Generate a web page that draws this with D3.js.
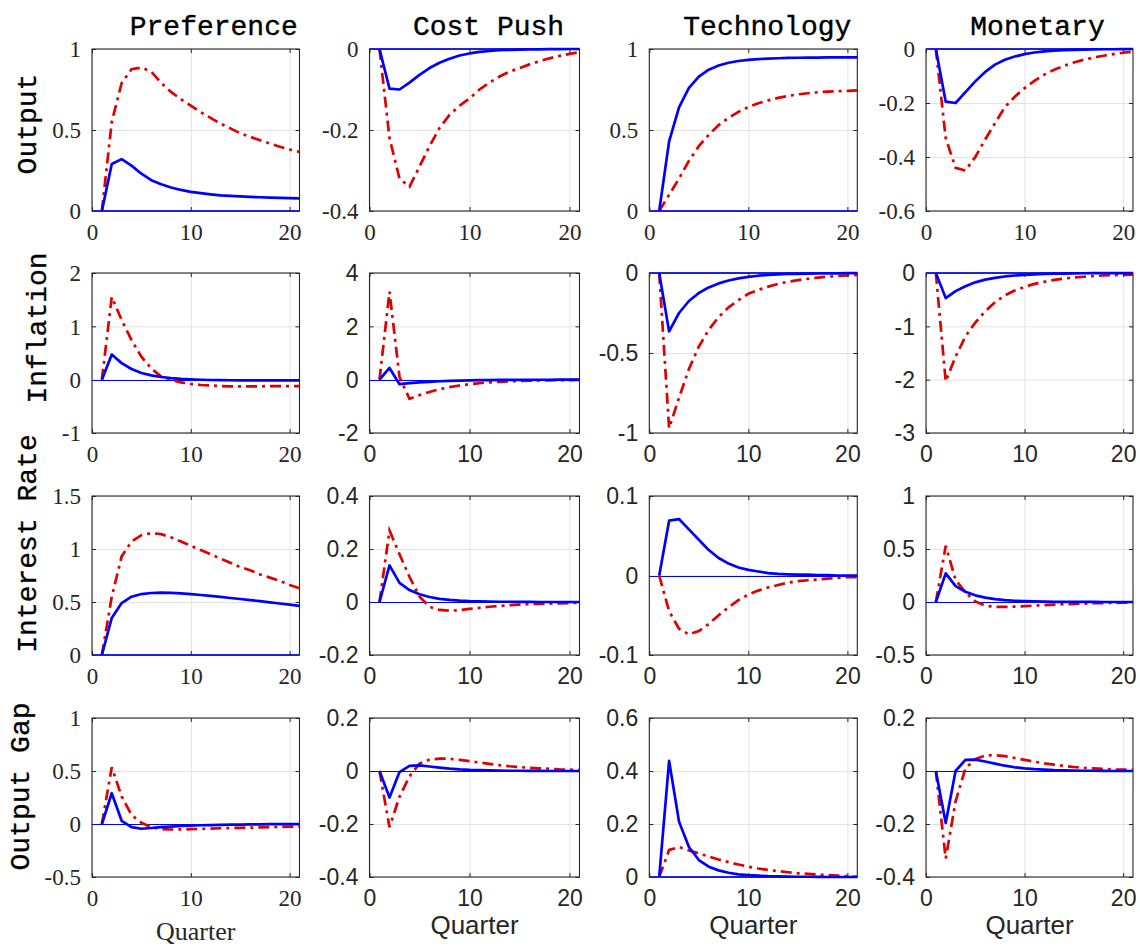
<!DOCTYPE html>
<html>
<head>
<meta charset="utf-8">
<script src="https://cdn.jsdelivr.net/npm/d3@7"></script>
<style>
  body { margin: 0; background: #fff; }
  svg { display: block; }
</style>
</head>
<body>
<svg id="chart" width="1140" height="946"></svg>
<script>
// Chart data
const quarters = d3.range(1, 22);
const shocks = ['Preference', 'Cost Push', 'Technology', 'Monetary'];
const variables = ['Output', 'Inflation', 'Interest Rate', 'Output Gap'];
const xTicks = [0, 10, 20];

// y tick labels, one list per panel (row = variable, column = shock)
const outputTicks = [[0, 0.5, 1], [-0.4, -0.2, 0], [0, 0.5, 1], [-0.6, -0.4, -0.2, 0]];
const inflationTicks = [[-1, 0, 1, 2], [-2, 0, 2, 4], [-1, -0.5, 0], [-3, -2, -1, 0]];
const interestTicks = [[0, 0.5, 1, 1.5], [-0.2, 0, 0.2, 0.4], [-0.1, 0, 0.1], [-0.5, 0, 0.5, 1]];
const gapTicks = [[-0.5, 0, 0.5, 1], [-0.4, -0.2, 0, 0.2], [0, 0.2, 0.4, 0.6], [-0.4, -0.2, 0, 0.2]];

// solid blue responses
const outputBlue = [
  [0, 0.29, 0.32, 0.28, 0.23, 0.19, 0.165, 0.145, 0.13, 0.118, 0.11, 0.103, 0.097, 0.093, 0.09, 0.087, 0.085, 0.083, 0.081, 0.079, 0.078],
  [0, -0.098, -0.1, -0.083, -0.064, -0.047, -0.034, -0.024, -0.016, -0.011, -0.007, -0.005, -0.003, -0.002, -0.0015, -0.001, -0.001, -0.0005, -0.0005, 0, 0],
  [0, 0.43, 0.64, 0.76, 0.83, 0.872, 0.898, 0.915, 0.926, 0.933, 0.938, 0.941, 0.943, 0.945, 0.946, 0.947, 0.947, 0.948, 0.948, 0.948, 0.948],
  [0, -0.195, -0.2, -0.16, -0.12, -0.085, -0.058, -0.04, -0.028, -0.019, -0.013, -0.009, -0.006, -0.004, -0.003, -0.002, -0.0015, -0.001, -0.001, -0.0005, 0]
];
const inflationBlue = [
  [0, 0.47, 0.31, 0.2, 0.125, 0.08, 0.05, 0.03, 0.015, 0.005, -0.002, -0.006, -0.009, -0.011, -0.012, -0.013, -0.013, -0.013, -0.013, -0.013, -0.013],
  [0, 0.44, -0.17, -0.13, -0.1, -0.08, -0.06, -0.045, -0.035, -0.027, -0.02, -0.015, -0.011, -0.008, -0.006, -0.005, -0.004, -0.003, -0.002, -0.002, -0.001],
  [0, -0.365, -0.25, -0.175, -0.125, -0.09, -0.065, -0.047, -0.034, -0.024, -0.017, -0.012, -0.009, -0.006, -0.005, -0.004, -0.003, -0.002, -0.002, -0.001, -0.001],
  [0, -0.47, -0.34, -0.25, -0.175, -0.125, -0.09, -0.065, -0.047, -0.034, -0.025, -0.018, -0.013, -0.01, -0.007, -0.005, -0.004, -0.003, -0.002, -0.002, -0.001]
];
const interestBlue = [
  [0, 0.35, 0.49, 0.55, 0.575, 0.585, 0.588, 0.586, 0.581, 0.574, 0.566, 0.557, 0.548, 0.538, 0.528, 0.518, 0.508, 0.497, 0.486, 0.475, 0.463],
  [0, 0.138, 0.072, 0.045, 0.029, 0.019, 0.012, 0.008, 0.005, 0.003, 0.002, 0.0015, 0.001, 0.001, 0.0005, 0.0005, 0, 0, 0, 0, 0],
  [0, 0.069, 0.071, 0.058, 0.045, 0.032, 0.022, 0.015, 0.01, 0.007, 0.005, 0.003, 0.002, 0.0015, 0.001, 0.001, 0.0005, 0.0005, 0, 0, 0],
  [0, 0.27, 0.15, 0.097, 0.063, 0.041, 0.027, 0.018, 0.012, 0.008, 0.005, 0.003, 0.002, 0.0015, 0.001, 0.001, 0.0005, 0, 0, 0, 0]
];
const gapBlue = [
  [0, 0.29, 0.03, -0.03, -0.045, -0.038, -0.03, -0.024, -0.019, -0.015, -0.012, -0.01, -0.008, -0.006, -0.005, -0.004, -0.003, -0.002, -0.002, -0.001, -0.001],
  [0, -0.1, -0.004, 0.019, 0.021, 0.017, 0.013, 0.009, 0.006, 0.004, 0.003, 0.002, 0.0015, 0.001, 0.001, 0.0005, 0.0005, 0, 0, 0, 0],
  [0, 0.438, 0.209, 0.113, 0.064, 0.039, 0.025, 0.016, 0.01, 0.007, 0.005, 0.003, 0.002, 0.0015, 0.001, 0.001, 0.0005, 0, 0, 0, 0],
  [0, -0.196, 0, 0.042, 0.043, 0.036, 0.028, 0.02, 0.014, 0.01, 0.007, 0.005, 0.003, 0.002, 0.0015, 0.001, 0.001, 0.0005, 0, 0, 0]
];

// dash-dot red responses
const outputRed = [
  [0, 0.55, 0.79, 0.875, 0.885, 0.86, 0.79, 0.735, 0.69, 0.65, 0.61, 0.575, 0.54, 0.51, 0.48, 0.458, 0.437, 0.416, 0.397, 0.38, 0.365],
  [0, -0.22, -0.32, -0.34, -0.29, -0.24, -0.195, -0.163, -0.14, -0.122, -0.1, -0.083, -0.068, -0.056, -0.047, -0.038, -0.03, -0.023, -0.017, -0.012, -0.008],
  [0, 0.1, 0.2, 0.31, 0.4, 0.47, 0.53, 0.575, 0.612, 0.642, 0.665, 0.683, 0.698, 0.71, 0.72, 0.727, 0.733, 0.737, 0.74, 0.742, 0.744],
  [0, -0.33, -0.44, -0.45, -0.4, -0.335, -0.275, -0.215, -0.177, -0.145, -0.118, -0.095, -0.077, -0.062, -0.05, -0.04, -0.032, -0.025, -0.019, -0.014, -0.01]
];
const inflationRed = [
  [0, 1.55, 1.12, 0.74, 0.43, 0.21, 0.06, 0, -0.05, -0.08, -0.1, -0.11, -0.12, -0.125, -0.125, -0.125, -0.125, -0.12, -0.12, -0.12, -0.12],
  [0, 3.3, 0.1, -0.72, -0.58, -0.46, -0.36, -0.28, -0.22, -0.17, -0.13, -0.1, -0.08, -0.06, -0.05, -0.04, -0.03, -0.025, -0.02, -0.015, -0.01],
  [0, -0.97, -0.78, -0.6, -0.46, -0.355, -0.275, -0.215, -0.17, -0.13, -0.105, -0.085, -0.068, -0.055, -0.045, -0.036, -0.029, -0.023, -0.019, -0.015, -0.012],
  [0, -2.03, -1.57, -1.19, -0.93, -0.72, -0.55, -0.42, -0.33, -0.26, -0.205, -0.165, -0.13, -0.105, -0.085, -0.07, -0.057, -0.047, -0.04, -0.035, -0.03]
];
const interestRed = [
  [0, 0.55, 0.93, 1.07, 1.13, 1.15, 1.14, 1.11, 1.07, 1.03, 0.99, 0.95, 0.91, 0.87, 0.83, 0.8, 0.76, 0.73, 0.7, 0.66, 0.63],
  [0, 0.27, 0.18, 0.095, 0.02, -0.018, -0.03, -0.033, -0.031, -0.026, -0.022, -0.018, -0.015, -0.012, -0.01, -0.008, -0.007, -0.006, -0.005, -0.004, -0.003],
  [0, -0.045, -0.067, -0.074, -0.07, -0.061, -0.05, -0.04, -0.031, -0.024, -0.019, -0.015, -0.012, -0.009, -0.007, -0.006, -0.005, -0.004, -0.003, -0.002, -0.002],
  [0, 0.53, 0.21, 0.09, 0.005, -0.035, -0.045, -0.046, -0.043, -0.039, -0.034, -0.029, -0.025, -0.021, -0.018, -0.015, -0.012, -0.01, -0.008, -0.007, -0.006]
];
const gapRed = [
  [0, 0.535, 0.26, 0.085, 0.012, -0.03, -0.048, -0.052, -0.051, -0.049, -0.046, -0.043, -0.04, -0.038, -0.036, -0.034, -0.032, -0.03, -0.028, -0.026, -0.025],
  [0, -0.212, -0.097, -0.02, 0.028, 0.043, 0.047, 0.046, 0.042, 0.037, 0.032, 0.027, 0.022, 0.018, 0.015, 0.012, 0.01, 0.008, 0.006, 0.005, 0.004],
  [0, 0.102, 0.113, 0.1, 0.089, 0.077, 0.066, 0.056, 0.047, 0.039, 0.032, 0.027, 0.022, 0.018, 0.014, 0.012, 0.009, 0.007, 0.005, 0.003, 0.001],
  [0, -0.33, -0.115, 0.01, 0.045, 0.058, 0.06, 0.056, 0.049, 0.042, 0.035, 0.029, 0.024, 0.019, 0.015, 0.012, 0.01, 0.008, 0.006, 0.005, 0.004]
];

const ticksByRow = [outputTicks, inflationTicks, interestTicks, gapTicks];
const blueByRow = [outputBlue, inflationBlue, interestBlue, gapBlue];
const redByRow = [outputRed, inflationRed, interestRed, gapRed];

// Layout (pixels)
const colLeft = [92, 369.5, 649.3, 926];
const colWidth = [207.5, 210, 208, 207];
const rowTop = [49, 273, 496, 718];
const rowHeight = [162, 160, 159, 159];
const titleShift = [18, 14, 14, 8];
const labelShift = [-6, -25, -32, -11];

const serif = '"Liberation Serif", "Times New Roman", serif';
const sans = '"Liberation Sans", Arial, Helvetica, sans-serif';
const mono = '"Liberation Mono", "Courier New", monospace';
const ink = '#262626';
const gridColor = '#e3e3e3';
const tickFont = 23;

const svg = d3.select('#chart');

const line = (x, y) => d3.line()
  .x((d, i) => x(quarters[i]))
  .y(d => y(d));

variables.forEach((variable, r) => {
  let labelLeft = Infinity;

  shocks.forEach((shock, c) => {
    const left = colLeft[c], top = rowTop[r];
    const w = colWidth[c], h = rowHeight[r];
    const ticks = ticksByRow[r][c];
    const font = (r === 0 || c === 0) ? serif : sans;

    const x = d3.scaleLinear().domain([0, 21]).range([left, left + w]);
    const y = d3.scaleLinear().domain(d3.extent(ticks)).range([top + h, top]);

    const g = svg.append('g');

    // grid
    g.append('g')
      .attr('transform', `translate(0,${top + h})`)
      .call(d3.axisBottom(x).tickValues(xTicks).tickSize(-h).tickFormat(''))
      .call(a => a.select('.domain').remove())
      .call(a => a.selectAll('line').attr('stroke', gridColor));
    g.append('g')
      .attr('transform', `translate(${left},0)`)
      .call(d3.axisLeft(y).tickValues(ticks).tickSize(-w).tickFormat(''))
      .call(a => a.select('.domain').remove())
      .call(a => a.selectAll('line').attr('stroke', gridColor));

    // box
    g.append('rect')
      .attr('x', left).attr('y', top)
      .attr('width', w).attr('height', h)
      .attr('fill', 'none')
      .attr('stroke', ink)
      .attr('stroke-width', 1.1);

    // zero reference, drawn over the box like the original
    const onEdge = y(0) === top || y(0) === top + h;
    const y0 = onEdge ? y(0) : Math.round(y(0)) + 0.5;
    g.append('line')
      .attr('x1', left).attr('x2', left + w)
      .attr('y1', y0).attr('y2', y0)
      .attr('stroke', '#0000ff')
      .attr('stroke-width', onEdge ? 1.6 : 1.2);

    // responses
    g.append('path')
      .attr('d', line(x, y)(redByRow[r][c]))
      .attr('fill', 'none')
      .attr('stroke', '#e00000')
      .attr('stroke-width', 2.7)
      .attr('stroke-dasharray', '11,5,3,5');
    g.append('path')
      .attr('d', line(x, y)(blueByRow[r][c]))
      .attr('fill', 'none')
      .attr('stroke', '#0000ff')
      .attr('stroke-width', 2.7)
      .attr('stroke-linejoin', 'round');

    // axes with inward ticks
    const styleAxis = a => {
      a.select('.domain').remove();
      a.selectAll('line').attr('stroke', ink);
      a.selectAll('text')
        .attr('fill', ink)
        .style('font-family', font)
        .style('font-size', tickFont + 'px');
    };
    const yAxis = g.append('g')
      .attr('transform', `translate(${left},0)`)
      .call(d3.axisLeft(y).tickValues(ticks).tickSizeInner(-4).tickSizeOuter(0)
        .tickPadding(11).tickFormat(d => String(d)))
      .call(styleAxis);
    yAxis.selectAll('text').attr('dy', '0.34em');
    yAxis.selectAll('line').filter(d => d === 0).remove();
    g.append('g')
      .attr('transform', `translate(${left + w},0)`)
      .call(d3.axisRight(y).tickValues(ticks).tickSizeInner(-4).tickSizeOuter(0).tickFormat(''))
      .call(styleAxis)
      .call(a => a.selectAll('line').filter(d => d === 0).remove());
    g.append('g')
      .attr('transform', `translate(0,${top + h})`)
      .call(d3.axisBottom(x).tickValues(xTicks).tickSizeInner(-4).tickSizeOuter(0)
        .tickPadding(13).tickFormat(d => String(d)))
      .call(styleAxis);
    g.append('g')
      .attr('transform', `translate(0,${top})`)
      .call(d3.axisTop(x).tickValues(xTicks).tickSizeInner(-4).tickSizeOuter(0).tickFormat(''))
      .call(styleAxis);

    if (c === 0) {
      yAxis.selectAll('text').each(function () {
        const b = this.getBBox();
        labelLeft = Math.min(labelLeft, left - 11 - b.width);
      });
    }

    // column titles
    if (r === 0) {
      svg.append('text')
        .attr('x', left + w / 2 + titleShift[c])
        .attr('y', 35)
        .attr('text-anchor', 'middle')
        .attr('fill', '#000')
        .attr('stroke', '#000')
        .attr('stroke-width', 0.4)
        .style('font-family', mono)
        .style('font-size', '28px')
        .text(shock);
    }

    // x label
    if (r === variables.length - 1) {
      svg.append('text')
        .attr('x', left + w / 2)
        .attr('y', c === 0 ? 940 : 934)
        .attr('text-anchor', 'middle')
        .attr('fill', ink)
        .style('font-family', font)
        .style('font-size', '26px')
        .text('Quarter');
    }
  });

  // row label
  const cy = rowTop[r] + rowHeight[r] / 2 + labelShift[r];
  svg.append('text')
    .attr('transform', `translate(${labelLeft - 16},${cy}) rotate(-90)`)
    .attr('text-anchor', 'middle')
    .attr('fill', '#000')
    .attr('stroke', '#000')
    .attr('stroke-width', 0.3)
    .style('font-family', mono)
    .style('font-size', '28px')
    .text(variable);
});
</script>
</body>
</html>
